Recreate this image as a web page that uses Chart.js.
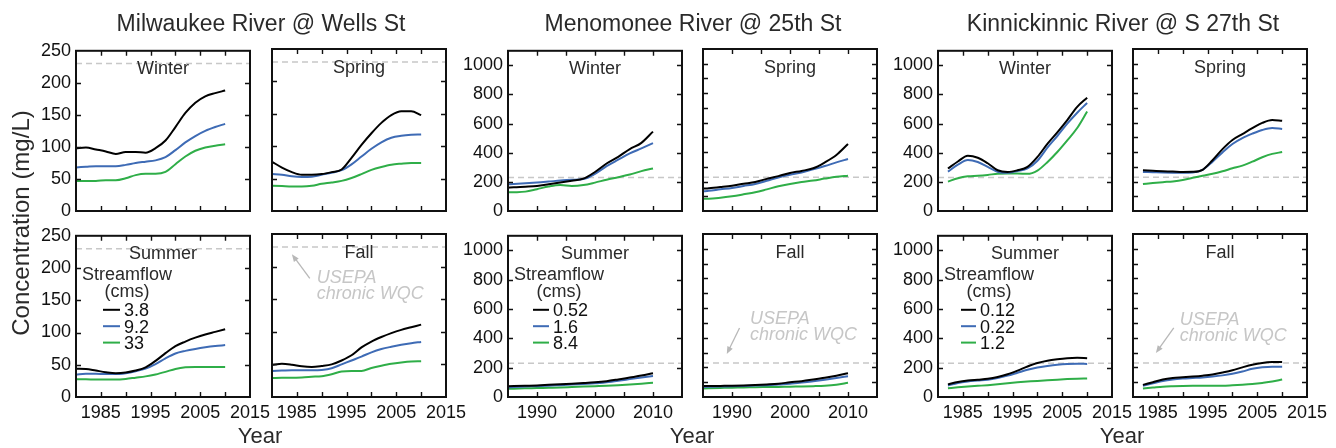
<!DOCTYPE html>
<html>
<head>
<meta charset="utf-8">
<script src="https://cdn.jsdelivr.net/npm/chart.js@4.4.1/dist/chart.umd.min.js"></script>
<style>
  body { margin: 0; background: #fff; width: 1336px; height: 448px; overflow: hidden; position: relative;
         font-family: Arial, "Liberation Sans", Helvetica, sans-serif; }
  canvas { position: absolute; }
  .txt { position: absolute; color: #2a2a2a; white-space: nowrap; text-align: center; }
</style>
</head>
<body>
<script>
// ---- data ----
const seasons = ['Winter', 'Spring', 'Summer', 'Fall'];
const WQC = 230; // USEPA chronic water quality criterion (mg/L)

const milYears = [1980, 1982, 1984, 1986, 1988, 1990, 1992, 1994, 1996, 1998, 2000, 2002, 2004, 2006, 2008, 2010];
const milFlows = ['3.8', '9.2', '33'];
const milWinter = [
  [98, 99, 96, 93, 89, 92, 92, 91, 98, 110, 131, 153, 169, 179, 184, 188],
  [68, 69, 70, 70, 70, 72, 75, 77, 79, 84, 95, 107, 117, 125, 131, 136],
  [47, 47, 47, 48, 48, 51, 56, 58, 58, 61, 73, 85, 94, 99, 102, 104]
];
const milSpring = [
  [76, 67, 60, 56, 56, 57, 60, 64, 82, 102, 120, 136, 148, 154, 154, 148],
  [57, 56, 53.5, 52.5, 53, 56, 59, 63, 72, 84, 96, 106, 113, 116, 117.5, 118],
  [39, 38.5, 38, 38, 39, 42, 44, 46.5, 51, 57, 63.5, 68, 71.5, 73, 74, 74]
];
const milSummer = [
  [44, 43.5, 41, 38.5, 37, 38, 41, 46, 56, 68, 79, 86, 92, 97, 101, 105],
  [35, 36, 36, 35.5, 35.5, 37, 40, 44, 51, 60, 67.5, 71.5, 74.5, 77, 79, 80.5],
  [27.5, 27.5, 27, 27, 27, 28, 30, 32, 35, 39, 43.5, 46, 46.5, 46.5, 46.5, 46.5]
];
const milFall = [
  [49, 51, 49.5, 47, 46, 47.5, 50, 56, 64, 76, 85, 92, 98, 103, 107, 111],
  [40, 40.5, 41, 41, 41, 41.5, 44, 50, 56, 62, 68.5, 73.5, 77, 80, 82.5, 84.5],
  [29, 29.5, 29.5, 30, 31, 32, 35, 39, 40, 40, 44.5, 48, 51, 53, 54.5, 55]
];

const menoYears = [1985, 1986, 1988, 1990, 1992, 1994, 1996, 1998, 2000, 2002, 2004, 2006, 2008, 2010];
const menoFlows = ['0.52', '1.6', '8.4'];
const menoWinter = [
  [160, 163, 167, 172, 183, 195, 208, 222, 268, 326, 372, 425, 468, 545],
  [183, 185, 190, 196, 202, 209, 214, 219, 255, 308, 352, 395, 430, 466],
  [128, 129, 133, 150, 168, 178, 172, 178, 195, 215, 232, 250, 274, 292]
];
const menoSpring = [
  [152, 155, 163, 172, 185, 197, 218, 237, 258, 272, 290, 330, 380, 455],
  [134, 137, 147, 156, 170, 184, 205, 228, 246, 262, 283, 305, 330, 353],
  [84, 84, 90, 100, 113, 127, 147, 168, 184, 197, 207, 220, 232, 240]
];
const menoSummer = [
  [74, 75, 77, 79, 83, 87, 91, 95, 100, 108, 120, 133, 146, 162],
  [67, 68, 71, 74, 77, 81, 85, 89, 93, 101, 111, 122, 133, 144],
  [56, 57, 59, 61, 63, 65, 68, 71, 74, 77, 81, 86, 91, 97]
];
const menoFall = [
  [74, 74, 75, 76, 78, 81, 85, 90, 99, 107, 118, 130, 144, 160],
  [68, 69, 71, 72, 74, 77, 80, 84, 90, 97, 107, 117, 128, 140],
  [58, 59, 61, 63, 64, 66, 67, 68, 70, 71, 73, 76, 83, 96]
];

const kinYears = [1982, 1984, 1986, 1988, 1990, 1992, 1994, 1996, 1998, 2000, 2002, 2004, 2006, 2008, 2010];
const kinFlows = ['0.12', '0.22', '1.2'];
const kinWinter = [
  [292, 340, 379, 366, 328, 280, 268, 280, 303, 371, 461, 540, 624, 715, 778],
  [270, 318, 350, 336, 303, 270, 262, 275, 292, 345, 435, 515, 600, 675, 742],
  [202, 225, 238, 242, 248, 256, 258, 258, 255, 278, 335, 405, 485, 570, 683]
];
const kinSpring = [
  [276, 273, 270, 268, 265, 266, 280, 345, 420, 482, 522, 562, 598, 618, 612],
  [265, 263, 261, 260, 260, 262, 280, 335, 398, 455, 495, 525, 550, 563, 557],
  [183, 190, 196, 201, 210, 226, 240, 253, 270, 290, 308, 335, 365, 388, 400]
];
const kinSummer = [
  [86, 102, 112, 118, 124, 136, 155, 180, 208, 232, 248, 258, 265, 268, 265],
  [78, 96, 106, 112, 118, 130, 146, 166, 186, 202, 212, 220, 225, 227, 226],
  [60, 66, 71, 76, 81, 87, 94, 100, 105, 110, 114, 118, 122, 125, 127]
];
const kinFall = [
  [82, 100, 118, 128, 133, 138, 144, 152, 165, 180, 200, 218, 230, 236, 237],
  [76, 92, 108, 118, 124, 128, 132, 138, 146, 157, 172, 190, 200, 204, 204],
  [58, 64, 70, 73, 75, 76, 76, 76, 76, 79, 83, 88, 95, 104, 118]
];

// ---- layout / style ----
const FONT = 'Arial, "Liberation Sans", Helvetica, sans-serif';
const flowColors = ['#000000', '#3e6bb5', '#2fae48'];
const PAD_L = 62, PAD_R = 26, PAD_T = 14, PAD_B = 34;
const PANEL_W = 174;
const ROW_TOP = [49, 234];
const ROW_H = [162, 163];

const rivers = [
  { title: 'Milwaukee River @ Wells St', center: 261, years: milYears, flows: milFlows,
    series: [milWinter, milSpring, milSummer, milFall],
    xMin: 1980, xMax: 2015, xLabels: [1985, 1995, 2005, 2015],
    yMax: 250, yStep: 50, yLabelStep: 50, lefts: [76, 272], legendX: [27, 48],
    note: { tip: [1984, 219], tail: [1987.6, 182], text: [1989, 175] } },
  { title: 'Menomonee River @ 25th St', center: 693, years: menoYears, flows: menoFlows,
    series: [menoWinter, menoSpring, menoSummer, menoFall],
    xMin: 1985, xMax: 2015, xLabels: [1990, 2000, 2010],
    yMax: 1100, yStep: 100, yLabelStep: 200, lefts: [508, 703], legendX: [25, 45],
    note: { tip: [1989.1, 290], tail: [1991.3, 466], text: [1993.1, 495] } },
  { title: 'Kinnickinnic River @ S 27th St', center: 1123, years: kinYears, flows: kinFlows,
    series: [kinWinter, kinSpring, kinSummer, kinFall],
    xMin: 1980, xMax: 2015, xLabels: [1985, 1995, 2005, 2015],
    yMax: 1100, yStep: 100, yLabelStep: 200, lefts: [938, 1133], legendX: [23, 42],
    note: { tip: [1984.6, 297], tail: [1988.2, 466], text: [1989.4, 489] } }
];

Chart.defaults.font.family = FONT;
Chart.defaults.color = '#111';

function decorPlugin(r, si) {
  return {
    id: 'decor',
    afterDatasetsDraw(chart) {
      const ctx = chart.ctx, a = chart.chartArea;
      const xs = chart.scales.x, ys = chart.scales.y;
      ctx.save();

      // inward ticks on all four sides
      ctx.strokeStyle = '#111';
      ctx.lineWidth = 1.4;
      ctx.beginPath();
      xs.ticks.forEach(t => {
        if (t.value <= xs.min || t.value >= xs.max) return;
        const px = Math.round(xs.getPixelForValue(t.value)) + 0.5;
        ctx.moveTo(px, a.bottom); ctx.lineTo(px, a.bottom - 5);
        ctx.moveTo(px, a.top); ctx.lineTo(px, a.top + 5);
      });
      ys.ticks.forEach(t => {
        if (t.value <= ys.min || t.value >= ys.max) return;
        const py = Math.round(ys.getPixelForValue(t.value)) + 0.5;
        ctx.moveTo(a.left, py); ctx.lineTo(a.left + 5, py);
        ctx.moveTo(a.right, py); ctx.lineTo(a.right - 5, py);
      });
      ctx.stroke();

      // frame
      ctx.lineWidth = 2;
      ctx.strokeRect(a.left, a.top, a.right - a.left, a.bottom - a.top);

      // season label
      ctx.fillStyle = '#2a2a2a';
      ctx.font = '18px ' + FONT;
      ctx.textAlign = 'center';
      ctx.textBaseline = 'alphabetic';
      ctx.fillText(seasons[si], (a.left + a.right) / 2, a.top + 23.5);

      // legend in the summer panel
      if (si === 2) {
        ctx.textAlign = 'left';
        ctx.fillText('Streamflow', a.left + 6, a.top + 44.5);
        ctx.textAlign = 'center';
        ctx.fillText('(cms)', a.left + 51, a.top + 61.5);
        ctx.textAlign = 'left';
        chart.data.datasets.slice(0, 3).forEach((ds, k) => {
          const y = a.top + 74 + k * 16.4;
          ctx.strokeStyle = ds.borderColor;
          ctx.lineWidth = 2;
          ctx.beginPath();
          ctx.moveTo(a.left + r.legendX[0], y);
          ctx.lineTo(a.left + r.legendX[1] - 4, y);
          ctx.stroke();
          ctx.fillStyle = '#111';
          ctx.fillText(ds.label, a.left + r.legendX[1], y + 6.5);
        });
      }

      // USEPA annotation in the fall panel
      if (si === 3) {
        const n = r.note;
        const tx = xs.getPixelForValue(n.tip[0]), ty = ys.getPixelForValue(n.tip[1]);
        const sx = xs.getPixelForValue(n.tail[0]), sy = ys.getPixelForValue(n.tail[1]);
        const ang = Math.atan2(ty - sy, tx - sx);
        ctx.strokeStyle = '#b8b8b8';
        ctx.fillStyle = '#b8b8b8';
        ctx.lineWidth = 1.3;
        ctx.beginPath();
        ctx.moveTo(sx, sy);
        ctx.lineTo(tx - 5 * Math.cos(ang), ty - 5 * Math.sin(ang));
        ctx.stroke();
        ctx.beginPath();
        ctx.moveTo(tx, ty);
        ctx.lineTo(tx - 8 * Math.cos(ang - 0.38), ty - 8 * Math.sin(ang - 0.38));
        ctx.lineTo(tx - 8 * Math.cos(ang + 0.38), ty - 8 * Math.sin(ang + 0.38));
        ctx.closePath();
        ctx.fill();
        ctx.fillStyle = '#c6c6c6';
        ctx.font = 'italic 18px ' + FONT;
        ctx.textAlign = 'left';
        const px = xs.getPixelForValue(n.text[0]), py = ys.getPixelForValue(n.text[1]);
        ctx.fillText('USEPA', px, py);
        ctx.fillText('chronic WQC', px, py + 16);
      }
      ctx.restore();
    }
  };
}

function makePanel(r, si) {
  const col = si % 2, row = Math.floor(si / 2);
  const left = r.lefts[col], top = ROW_TOP[row], h = ROW_H[row];
  const cv = document.createElement('canvas');
  cv.width = PANEL_W + PAD_L + PAD_R;
  cv.height = h + PAD_T + PAD_B;
  cv.style.left = (left - PAD_L) + 'px';
  cv.style.top = (top - PAD_T) + 'px';
  document.body.appendChild(cv);

  const datasets = r.series[si].map((vals, k) => ({
    label: r.flows[k],
    data: r.years.map((x, i) => ({ x: x, y: vals[i] })),
    borderColor: flowColors[k],
    borderWidth: 2,
    pointRadius: 0,
    cubicInterpolationMode: 'monotone',
    order: k + 1
  }));
  datasets.push({
    label: 'USEPA chronic WQC',
    data: [{ x: r.xMin, y: WQC }, { x: r.xMax, y: WQC }],
    borderColor: '#c8c8c8',
    borderWidth: 1.5,
    borderDash: [6, 4],
    pointRadius: 0,
    order: 10
  });

  new Chart(cv, {
    type: 'line',
    data: { datasets },
    options: {
      responsive: false,
      animation: false,
      events: [],
      layout: { padding: { left: 0, top: PAD_T, right: PAD_R, bottom: 0 } },
      plugins: { legend: { display: false }, tooltip: { enabled: false } },
      scales: {
        x: {
          type: 'linear', min: r.xMin, max: r.xMax,
          grid: { display: false, drawTicks: false },
          border: { display: false },
          ticks: {
            display: row === 1, stepSize: 5, autoSkip: false, maxRotation: 0, padding: 5,
            color: '#111', font: { size: 18 },
            callback: v => r.xLabels.includes(v) ? String(v) : ''
          },
          afterFit: s => { s.height = PAD_B; }
        },
        y: {
          min: 0, max: r.yMax,
          grid: { display: false, drawTicks: false },
          border: { display: false },
          ticks: {
            display: col === 0, stepSize: r.yStep, padding: 5,
            color: '#111', font: { size: 18 },
            callback: v => v % r.yLabelStep === 0 ? String(v) : ''
          },
          afterFit: s => { s.width = PAD_L; }
        }
      }
    },
    plugins: [decorPlugin(r, si)]
  });
}

function addText(text, cx, top, size, extra) {
  const d = document.createElement('div');
  d.className = 'txt';
  d.textContent = text;
  d.style.left = (cx - 250) + 'px';
  d.style.width = '500px';
  d.style.top = top + 'px';
  d.style.fontSize = size + 'px';
  d.style.lineHeight = size + 'px';
  if (extra) Object.assign(d.style, extra);
  document.body.appendChild(d);
  return d;
}

rivers.forEach(r => {
  seasons.forEach((s, si) => makePanel(r, si));
  addText(r.title, r.center, 12, 23);
  addText('Year', r.center - 1, 425, 22);
});

addText('Concentration (mg/L)', 21, 210.5, 24, { transform: 'rotate(-90deg)', height: '24px' });
</script>
</body>
</html>
